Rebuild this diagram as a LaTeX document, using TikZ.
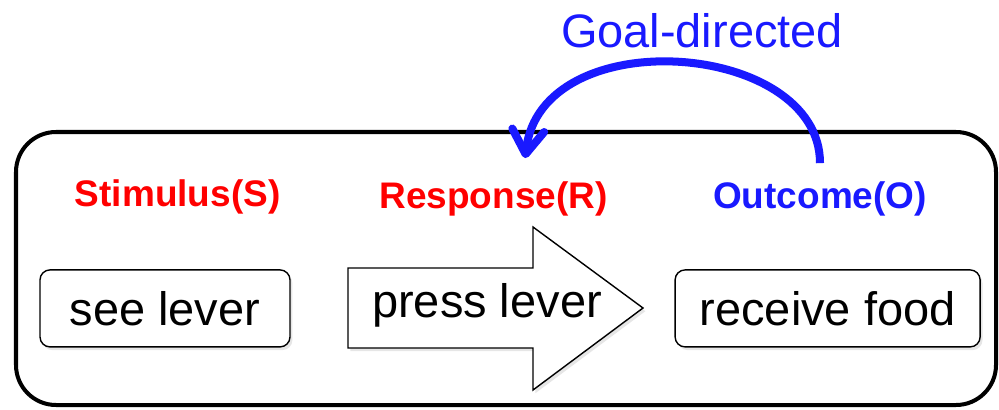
\documentclass[tikz,border=0pt]{standalone}
\usepackage{fontspec}
\setmainfont{Liberation Sans}
\usetikzlibrary{arrows.meta,shadows}
\definecolor{goalblue}{RGB}{25,25,255}
\begin{document}
\begin{tikzpicture}[font=\fontsize{33.4}{40}\selectfont,
    actbox/.style={draw, line width=1pt, rounded corners=0.25cm, minimum height=1.925cm, fill=white,
      drop shadow={shadow xshift=0.06cm, shadow yshift=-0.08cm, opacity=0.2}},
    lbl/.style={font=\fontsize{26.3}{30}\selectfont\bfseries, inner sep=2pt, anchor=base}]
  \useasboundingbox (0,0) rectangle (24.975,-10.25);
  % frame round the S-R-O chain
  \draw[line width=2.85pt, rounded corners=1cm] (0.4,-3.3) rectangle (24.9,-10.125);
  \node[lbl, red] (stim) at (4.44,-5.15) {Stimulus(S)};
  \node[lbl, red] (resp) at (12.34,-5.2) {Response(R)};
  \node[lbl, goalblue] (out) at (20.5,-5.2) {Outcome(O)};
  \node[actbox, minimum width=6.25cm] (see) at (4.125,-7.71) {see lever};
  \node[actbox, minimum width=7.625cm] (food) at (20.69,-7.71) {receive food};
  % big response arrow
  \path[draw, line width=1pt, fill=white, drop shadow={shadow xshift=0.06cm, shadow yshift=-0.08cm, opacity=0.2}]
    (8.7,-6.7) -- (13.325,-6.7) -- (13.325,-5.675) -- (16.075,-7.7) -- (13.325,-9.75)
    -- (13.325,-8.7) -- (8.7,-8.7) -- cycle;
  \node (press) at (12.175,-7.625) {press lever};
  \node[goalblue, anchor=base] (goal) at (17.55,-1.2) {Goal-directed};
  \draw[goalblue, line width=5.7pt, -{Straight Barb[length=0.6cm, width=0.8cm, line cap=round, line join=round]}]
    ([yshift=0.375cm]out.north) .. controls +(0,3.075) and +(0.375,3.45) .. ([xshift=0.79cm, yshift=0.5cm]resp.north);
\end{tikzpicture}
\end{document}
